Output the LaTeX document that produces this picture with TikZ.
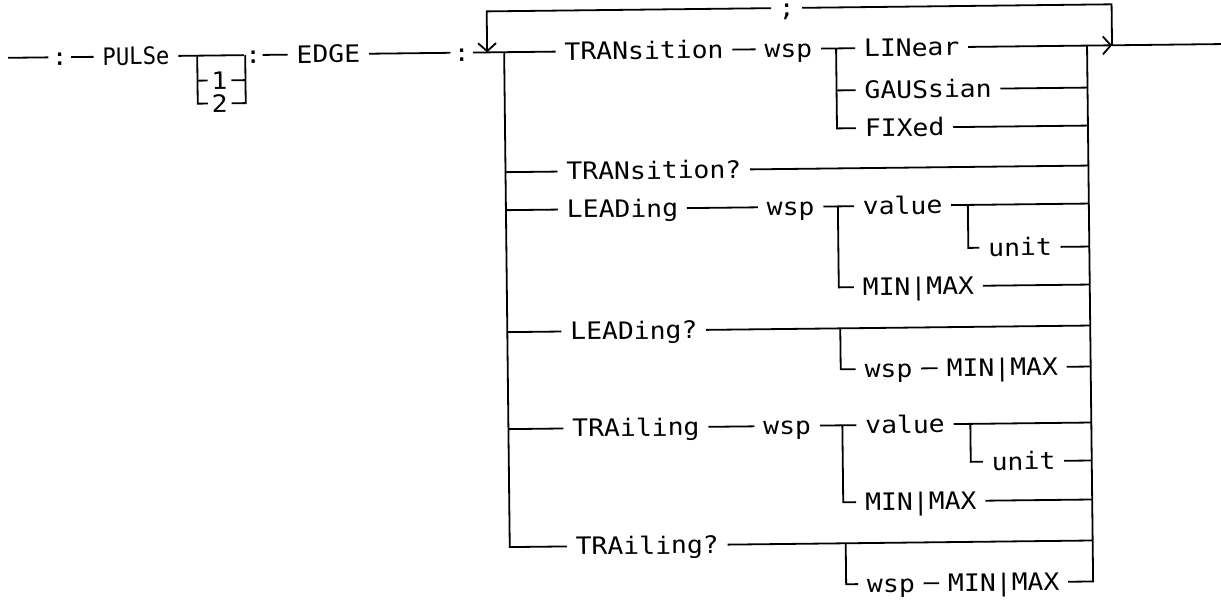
\documentclass[tikz,border=0pt]{standalone}
\usepackage{graphicx}
\usepackage{fontspec}
\newfontfamily\plotfont[FakeStretch=1.1]{DejaVu Sans Mono}
\usetikzlibrary{arrows.meta}
\begin{document}
\begin{tikzpicture}[x=1pt,y=-1pt, line width=1.8pt,
  lbl/.style={font=\plotfont\fontsize{24}{24}\selectfont, inner xsep=8pt, inner ysep=0pt,
              text height=23pt, text depth=6pt, anchor=west},
  punct/.style={lbl, anchor=center, inner xsep=#1}, punct/.default=9pt,
  barb/.style={-{Straight Barb[length=8pt,width=18pt]}}]
\fill[white] (0,0) rectangle (1221,600);
\useasboundingbox (0,0) rectangle (1221,600);
\begin{scope}[rotate around={0.65:(610,300)}, transform shape]
% ---------- junction coordinates ----------
\coordinate (start) at (11,51);
\coordinate (bl) at (200,51);
\coordinate (br) at (248,51);
\coordinate (loopL) at (490,51);
\coordinate (busL) at (507,51);
\coordinate (busR) at (1090,51);
\coordinate (busRb) at (1090,587);
\coordinate (loopR) at (1115,51);
\coordinate (finish) at (1232,51);
\coordinate (ba) at (839,51);
\coordinate (bb) at (839,209);
\coordinate (ua) at (969,209);
\coordinate (bc) at (840,331);
\coordinate (bd) at (841,428);
\coordinate (ub) at (969,428);
\coordinate (be) at (843,546);
% ---------- texts ----------
\node[punct] (c1) at (62.5,51) {\makebox[3pt]{:}};
\node[lbl] (pulse) at (96.5,51) {\scalebox{0.84}[1]{PULSe}};
\node[punct=3pt] (one) at (222,76) {1};
\node[punct=3pt] (two) at (222,99) {2};
\node[punct=7pt] (c2) at (256,51) {\makebox[3pt]{:}};
\node[lbl] (edge) at (290.5,51) {EDGE};
\node[punct] (c3) at (464.5,51) {\makebox[3pt]{:}};
\node[punct=13pt] (semi) at (790,10) {\makebox[3pt]{;}};
\node[lbl] (tran) at (558.5,51) {TRANsition};
\node[lbl] (wspa) at (758.5,51) {wsp};
\node[lbl] (lin) at (858,51) {LINear};
\node[lbl] (gaus) at (858,93) {GAUSsian};
\node[lbl] (fix) at (858,131) {FIXed};
\node[lbl] (tranq) at (559,171) {TRANsition?};
\node[lbl] (lead) at (559,209) {LEADing};
\node[lbl] (wspb) at (759,209) {wsp};
\node[lbl] (vala) at (855,209) {value};
\node[lbl] (unita) at (980,252) {unit};
\node[lbl] (mma) at (854,290) {MIN|MAX};
\node[lbl] (leadq) at (561,331) {LEADing?};
\node[lbl] (wspc) at (855,372) {wsp};
\node[lbl] (mmb) at (937,372) {MIN|MAX};
\node[lbl] (trl) at (562,428) {TRAiling};
\node[lbl] (wspd) at (753,428) {wsp};
\node[lbl] (valb) at (855,428) {value};
\node[lbl] (unitb) at (981,466) {unit};
\node[lbl] (mmc) at (854,505) {MIN|MAX};
\node[lbl] (trlq) at (564,546) {TRAiling?};
\node[lbl] (wspe) at (855,587) {wsp};
\node[lbl] (mmd) at (936,587) {MIN|MAX};
% ---------- main line ----------
\draw (start) -- (c1);
\draw (c1) -- (pulse);
\draw (pulse) -- (c2);
\draw (bl) |- (two);
\draw (bl |- one) -- (one);
\draw (two) -| (br);
\draw (one) -- (br |- one);
\draw (c2) -- (edge);
\draw (edge) -- (c3);
\draw (c3) -- (tran);
\draw (tran) -- (wspa);
\draw (wspa) -- (lin);
\draw (lin) -- (busR);
\draw[barb] (busR) -- (loopR);
\draw (loopR) -- (finish);
% ---------- repeat loop ----------
\draw (loopR) |- (semi);
\draw[barb] (semi) -| (loopL);
% ---------- buses ----------
\draw (busL) |- (trlq);
\draw (mmd) -- (busRb) -- (busR);
% ---------- TRANsition ----------
\draw (ba) |- (fix);
\draw (ba |- gaus) -- (gaus);
\draw (gaus) -- (gaus -| busR);
\draw (fix) -- (fix -| busR);
% ---------- TRANsition? ----------
\draw (busL |- tranq) -- (tranq);
\draw (tranq) -- (tranq -| busR);
% ---------- LEADing ----------
\draw (busL |- lead) -- (lead);
\draw (lead) -- (wspb);
\draw (wspb) -- (vala);
\draw (vala) -- (vala -| busR);
\draw (ua) |- (unita);
\draw (unita) -- (unita -| busR);
\draw (bb) |- (mma);
\draw (mma) -- (mma -| busR);
% ---------- LEADing? ----------
\draw (busL |- leadq) -- (leadq);
\draw (leadq) -- (leadq -| busR);
\draw (bc) |- (wspc);
\draw (wspc) -- (mmb);
\draw (mmb) -- (mmb -| busR);
% ---------- TRAiling ----------
\draw (busL |- trl) -- (trl);
\draw (trl) -- (wspd);
\draw (wspd) -- (valb);
\draw (valb) -- (valb -| busR);
\draw (ub) |- (unitb);
\draw (unitb) -- (unitb -| busR);
\draw (bd) |- (mmc);
\draw (mmc) -- (mmc -| busR);
% ---------- TRAiling? ----------
\draw (trlq) -- (trlq -| busR);
\draw (be) |- (wspe);
\draw (wspe) -- (mmd);
\end{scope}
\end{tikzpicture}
\end{document}
